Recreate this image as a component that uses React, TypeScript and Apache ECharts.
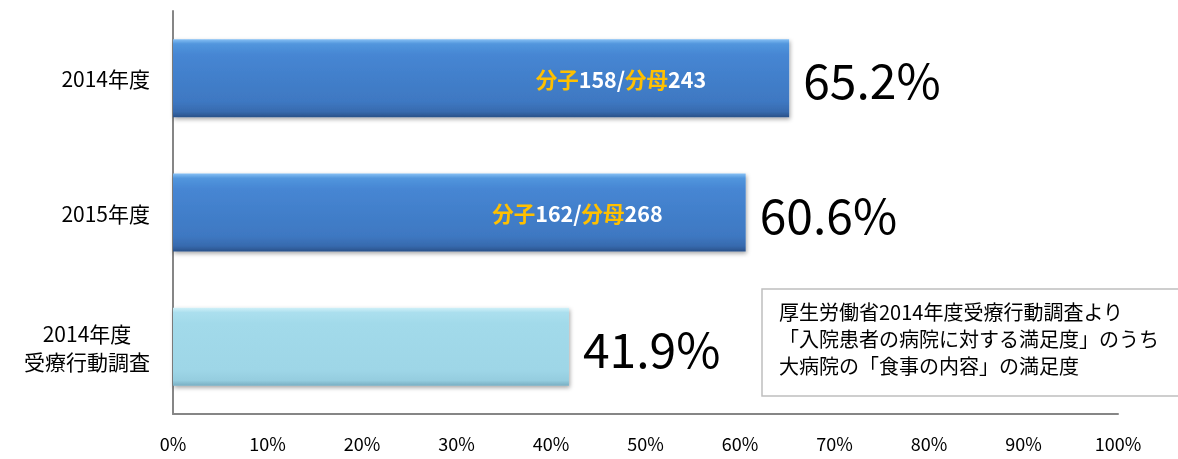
import React, { useEffect, useRef } from "react";
import * as echarts from "echarts";

const categories = ["2014年度", "2015年度", "2014年度\n受療行動調査"];
const percentValues = [65.2, 60.6, 41.9];
const numerators = [158, 162, null];
const denominators = [243, 268, null];
const xTickValues = [0, 10, 20, 30, 40, 50, 60, 70, 80, 90, 100];
const noteLines = [
  "厚生労働省2014年度受療行動調査より",
  "「入院患者の病院に対する満足度」のうち",
  "大病院の「食事の内容」の満足度",
];

const FONT = "'Noto Sans CJK JP', 'Noto Sans', sans-serif";

const blueGrad = new echarts.graphic.LinearGradient(0, 0, 0, 1, [
  { offset: 0, color: "#86C0F4" },
  { offset: 0.06, color: "#5296DD" },
  { offset: 0.2, color: "#4686D3" },
  { offset: 0.8, color: "#3E78C2" },
  { offset: 0.93, color: "#376AAE" },
  { offset: 1, color: "#2A5189" },
]);
const lightGrad = new echarts.graphic.LinearGradient(0, 0, 0, 1, [
  { offset: 0, color: "#CFF0F8" },
  { offset: 0.06, color: "#ABDFEE" },
  { offset: 0.2, color: "#A2DAEA" },
  { offset: 0.8, color: "#9ED6E7" },
  { offset: 0.93, color: "#95CDDF" },
  { offset: 1, color: "#78AEC2" },
]);

export default function App() {
  const ref = useRef<HTMLDivElement>(null);
  useEffect(() => {
    if (!ref.current) return;
    const chart = echarts.init(ref.current, undefined, { renderer: "svg" });
    const barData = percentValues.map((v, i) => ({
      value: v,
      itemStyle: {
        color: i < 2 ? blueGrad : lightGrad,
        shadowColor: "rgba(0,0,0,0.35)",
        shadowBlur: 4,
        shadowOffsetY: 2,
        shadowOffsetX: 1,
      },
      label: {
        show: numerators[i] != null,
        formatter: numerators[i] != null
          ? `{y|分子}{w|${numerators[i]}/}{y|分母}{w|${denominators[i]}}`
          : "",
      },
    }));
    chart.setOption({
      animation: false,
      grid: { left: 173, right: 60, top: 11, bottom: 45, containLabel: false },
      xAxis: {
        type: "value",
        min: 0,
        max: 100,
        interval: 10,
        axisLine: { show: true, lineStyle: { color: "#868686", width: 2 } },
        axisTick: { show: false },
        splitLine: { show: false },
        axisLabel: {
          formatter: (v: number) => (xTickValues.includes(v) ? `${v}%` : ""),
          color: "#000",
          fontSize: 18,
          fontFamily: FONT,
          margin: 20,
        },
      },
      yAxis: {
        type: "category",
        inverse: true,
        data: categories,
        axisLine: { show: true, lineStyle: { color: "#868686", width: 2 } },
        axisTick: { show: false },
        axisLabel: {
          color: "#000",
          fontSize: 21,
          fontFamily: FONT,
          margin: 23,
          formatter: (v: string) =>
            v.split("\n").map((s) => `{c|${s}}`).join("\n"),
          rich: {
            c: {
              fontSize: 21,
              fontFamily: FONT,
              color: "#000",
              align: "center",
              lineHeight: 28,
            },
          },
        },
      },
      series: [
        {
          type: "bar",
          data: barData,
          barWidth: 78,
          label: {
            show: true,
            position: "insideRight",
            offset: [-78, 0],
            fontFamily: FONT,
            fontWeight: "bold",
            fontSize: 21.5,
            rich: {
              y: { color: "#FFC000", fontWeight: "bold", fontSize: 21.5, fontFamily: FONT },
              w: { color: "#FFFFFF", fontWeight: "bold", fontSize: 21.5, fontFamily: FONT },
            },
          },
          z: 2,
        },
        {
          type: "bar",
          data: percentValues,
          barWidth: 78,
          barGap: "-100%",
          itemStyle: { color: "rgba(0,0,0,0)" },
          label: {
            show: true,
            position: "right",
            distance: 14,
            formatter: (p: any) => `${p.value.toFixed(1)}%`,
            color: "#000",
            fontSize: 48,
            fontFamily: FONT,
          },
          z: 3,
          silent: true,
        },
      ],
      graphic: [
        {
          type: "rect",
          shape: { x: 762, y: 289, width: 440, height: 107 },
          style: { fill: "#fff", stroke: "#BFBFBF", lineWidth: 1.5 },
          z: 10,
        },
        {
          type: "text",
          x: 779,
          y: 298,
          style: {
            text: noteLines.join("\n"),
            fill: "#000",
            fontSize: 20,
            lineHeight: 27,
            fontFamily: FONT,
          },
          z: 11,
        },
      ],
    });
    return () => chart.dispose();
  }, []);
  return (
    <div
      ref={ref}
      style={{ position: "fixed", left: 0, top: 0, width: 1178, height: 459 }}
    />
  );
}
